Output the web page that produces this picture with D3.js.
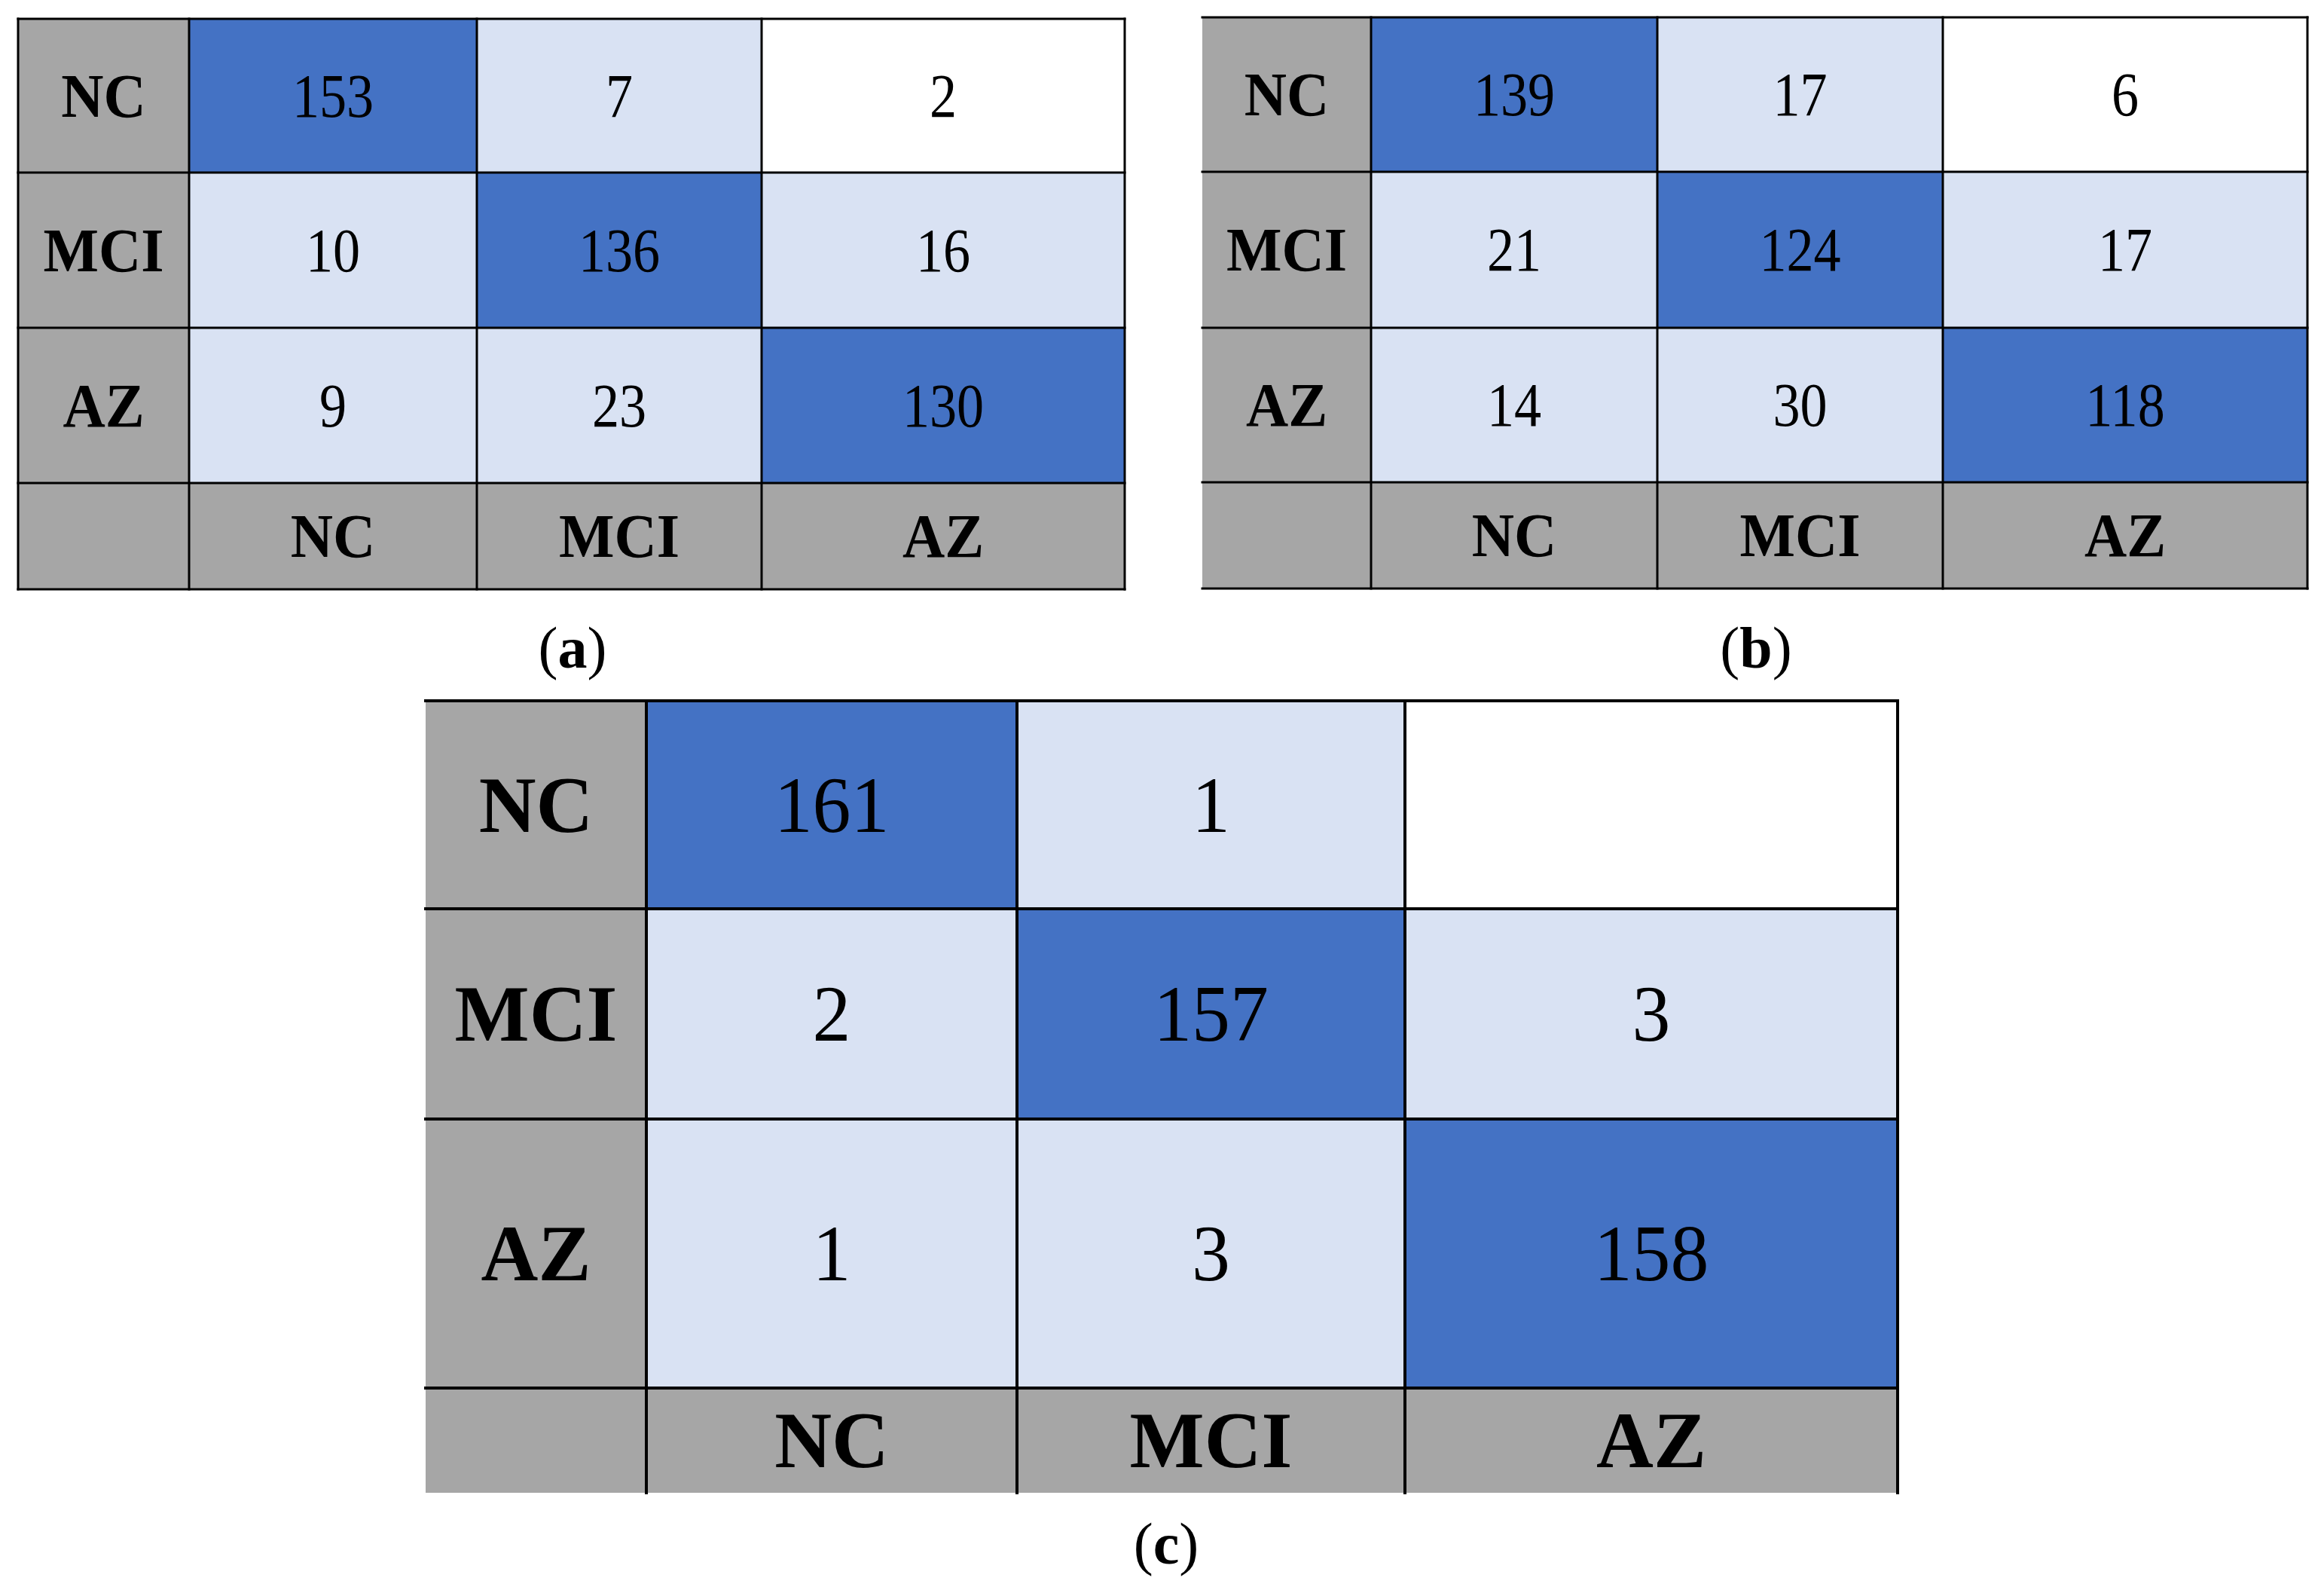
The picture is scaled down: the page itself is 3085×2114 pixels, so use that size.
<!DOCTYPE html>
<html>
<head>
<meta charset="utf-8">
<script src="https://cdn.jsdelivr.net/npm/d3@7"></script>
<style>
  html, body { margin: 0; padding: 0; background: #ffffff; }
  svg { display: block; }
</style>
</head>
<body>
<script>
// ---------------- DATA ----------------
const classes = ["NC", "MCI", "AZ"];
// rows = true class, columns = predicted class
const matrixA = [[153, 7, 2], [10, 136, 16], [9, 23, 130]];
const matrixB = [[139, 17, 6], [21, 124, 17], [14, 30, 118]];
const matrixC = [[161, 1, null], [2, 157, 3], [1, 3, 158]];
const captionLetters = ["a", "b", "c"];

// ---------------- LAYOUT ----------------
const W = 3085, H = 2114;
const panels = [
  { data: matrixA, letter: captionLetters[0],
    xs: [24, 251, 633, 1011, 1493], ys: [25, 229, 435, 641, 782],
    fs: 82, numSX: 0.88, labSX: 0.95, sw: 3,
    borders: { top: true, right: true, bottom: true, left: true },
    cap: [760, 886] },
  { data: matrixB, letter: captionLetters[1],
    xs: [1596, 1820, 2200, 2579, 3063], ys: [23, 228, 435, 640, 781],
    fs: 82, numSX: 0.88, labSX: 0.95, sw: 3,
    borders: { top: true, right: true, bottom: true, left: false },
    cap: [2331, 886] },
  { data: matrixC, letter: captionLetters[2],
    xs: [565, 858, 1350, 1865, 2519], ys: [930, 1206, 1485, 1842, 1981],
    fs: 105, numSX: 0.97, labSX: 1.0, sw: 4,
    borders: { top: true, right: true, bottom: false, left: false },
    cap: [1548, 2075] }
];

const DARK = "#4472C4", LIGHT = "#D9E2F3", GRAY = "#A6A6A6", WHITE = "#FFFFFF";
const FONT = "'Liberation Serif', 'Times New Roman', serif";

const svg = d3.select("body").append("svg")
  .attr("width", W).attr("height", H)
  .attr("viewBox", `0 0 ${W} ${H}`);

function cellFill(r, c) {
  if (r === c) return DARK;
  if (r === 0 && c === 2) return WHITE;
  return LIGHT;
}

panels.forEach(p => {
  const g = svg.append("g");
  // piecewise scales: index -> boundary position (col 0 = row labels, row 3 = column labels)
  const x = d3.scaleLinear().domain([0, 1, 2, 3, 4]).range(p.xs);
  const y = d3.scaleLinear().domain([0, 1, 2, 3, 4]).range(p.ys);

  // header cells
  const headerCells = [];
  for (let r = 0; r < 4; r++) headerCells.push({ c: 0, r });
  for (let c = 1; c < 4; c++) headerCells.push({ c, r: 3 });
  g.selectAll("rect.hdr").data(headerCells).join("rect")
    .attr("class", "hdr")
    .attr("x", d => x(d.c)).attr("y", d => y(d.r))
    .attr("width", d => x(d.c + 1) - x(d.c))
    .attr("height", d => y(d.r + 1) - y(d.r))
    .attr("fill", GRAY);

  // value cells
  const cells = [];
  p.data.forEach((row, r) => row.forEach((v, c) => cells.push({ r, c, v })));
  g.selectAll("rect.cell").data(cells).join("rect")
    .attr("class", "cell")
    .attr("x", d => x(d.c + 1)).attr("y", d => y(d.r))
    .attr("width", d => x(d.c + 2) - x(d.c + 1))
    .attr("height", d => y(d.r + 1) - y(d.r))
    .attr("fill", d => cellFill(d.r, d.c));

  // value text
  g.selectAll("text.val").data(cells.filter(d => d.v !== null)).join("text")
    .attr("class", "val")
    .attr("transform", d => {
      const cx = (x(d.c + 1) + x(d.c + 2)) / 2;
      const cy = (y(d.r) + y(d.r + 1)) / 2 + p.fs * 0.34;
      return `translate(${cx},${cy}) scale(${p.numSX},1)`;
    })
    .attr("text-anchor", "middle")
    .attr("font-family", FONT)
    .attr("font-size", p.fs)
    .attr("fill", "#000")
    .text(d => d.v);

  // row labels
  g.selectAll("text.rowlab").data(classes).join("text")
    .attr("class", "rowlab")
    .attr("transform", (d, i) => {
      const cx = (x(0) + x(1)) / 2;
      const cy = (y(i) + y(i + 1)) / 2 + p.fs * 0.34;
      return `translate(${cx},${cy}) scale(${p.labSX},1)`;
    })
    .attr("text-anchor", "middle")
    .attr("font-family", FONT)
    .attr("font-weight", "bold")
    .attr("font-size", p.fs)
    .attr("fill", "#000")
    .text(d => d);

  // column labels
  g.selectAll("text.collab").data(classes).join("text")
    .attr("class", "collab")
    .attr("transform", (d, i) => {
      const cx = (x(i + 1) + x(i + 2)) / 2;
      const cy = (y(3) + y(4)) / 2 + p.fs * 0.34;
      return `translate(${cx},${cy}) scale(${p.labSX},1)`;
    })
    .attr("text-anchor", "middle")
    .attr("font-family", FONT)
    .attr("font-weight", "bold")
    .attr("font-size", p.fs)
    .attr("fill", "#000")
    .text(d => d);

  // grid lines
  const lines = [];
  [1, 2, 3].forEach(i => {
    lines.push({ x1: x(i), x2: x(i), y1: y(0), y2: y(4) });
    lines.push({ x1: x(0), x2: x(4), y1: y(i), y2: y(i) });
  });
  if (p.borders.top) lines.push({ x1: x(0), x2: x(4), y1: y(0), y2: y(0) });
  if (p.borders.bottom) lines.push({ x1: x(0), x2: x(4), y1: y(4), y2: y(4) });
  if (p.borders.left) lines.push({ x1: x(0), x2: x(0), y1: y(0), y2: y(4) });
  if (p.borders.right) lines.push({ x1: x(4), x2: x(4), y1: y(0), y2: y(4) });
  g.selectAll("line").data(lines).join("line")
    .attr("x1", d => d.x1).attr("x2", d => d.x2)
    .attr("y1", d => d.y1).attr("y2", d => d.y2)
    .attr("stroke", "#000")
    .attr("stroke-width", p.sw)
    .attr("stroke-linecap", "square");

  // caption
  const cap = svg.append("text")
    .attr("x", p.cap[0]).attr("y", p.cap[1])
    .attr("text-anchor", "middle")
    .attr("font-family", FONT)
    .attr("font-size", 78)
    .attr("fill", "#000");
  cap.append("tspan").text("(");
  cap.append("tspan").attr("font-weight", "bold").text(p.letter);
  cap.append("tspan").text(")");
});
</script>
</body>
</html>
